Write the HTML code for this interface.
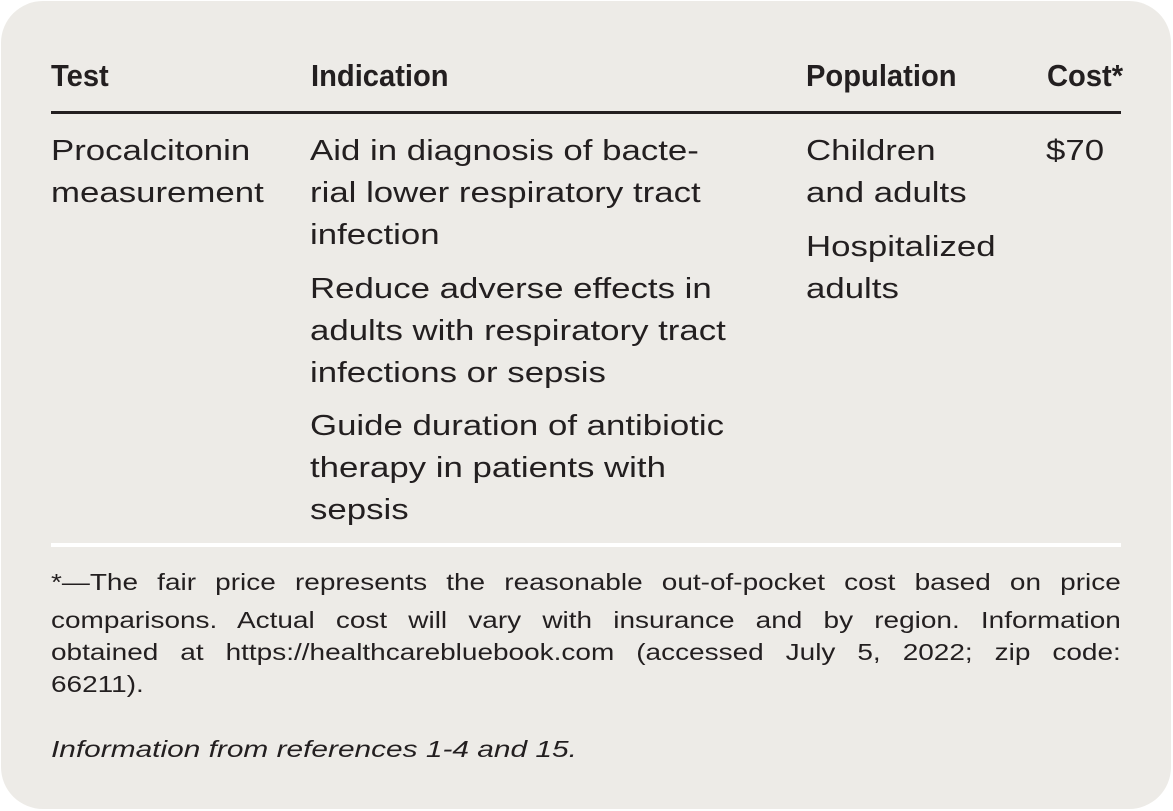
<!DOCTYPE html>
<html><head><meta charset="utf-8"><style>
html,body{margin:0;padding:0;background:#fff;}
body{width:1173px;height:811px;position:relative;overflow:hidden;font-family:"Liberation Sans",sans-serif;color:#231f20;}
.box{position:absolute;left:1px;top:1px;width:1170px;height:808px;background:#edebe7;border-radius:42px;}
.t{position:absolute;white-space:nowrap;transform-origin:0 0;}
.h{font-weight:bold;font-size:31px;top:58px;transform:scaleX(0.94);}
.b{font-size:29px;line-height:42px;transform:scaleX(1.2);}
.f{font-size:23.5px;line-height:32px;left:51px;width:899px;transform:scaleX(1.19);}
.j{text-align:justify;text-align-last:justify;}
</style></head><body>
<div class="box"></div>
<div class="t h" style="left:51px">Test</div>
<div class="t h" style="left:311px">Indication</div>
<div class="t h" style="left:806px">Population</div>
<div class="t h" style="left:1047px">Cost*</div>
<div style="position:absolute;left:51px;top:111px;width:1070px;height:3px;background:#231f20"></div>
<div class="t b" style="left:51px;top:130px">Procalcitonin<br>measurement</div>
<div class="t b" style="left:310px;top:130px">Aid in diagnosis of bacte-<br>rial lower respiratory tract<br>infection</div>
<div class="t b" style="left:310px;top:268px">Reduce adverse effects in<br>adults with respiratory tract<br>infections or sepsis</div>
<div class="t b" style="left:310px;top:405px">Guide duration of antibiotic<br>therapy in patients with<br>sepsis</div>
<div class="t b" style="left:806px;top:130px">Children<br>and adults</div>
<div class="t b" style="left:806px;top:226px">Hospitalized<br>adults</div>
<div class="t b" style="left:1046px;top:130px">$70</div>
<div style="position:absolute;left:51px;top:543px;width:1070px;height:4px;background:#fff"></div>
<div class="t f j" style="top:566px">*—The fair price represents the reasonable out-of-pocket cost based on price</div>
<div class="t f j" style="top:604px">comparisons. Actual cost will vary with insurance and by region. Information</div>
<div class="t f j" style="top:636px">obtained at https://healthcarebluebook.com (accessed July 5, 2022; zip code:</div>
<div class="t f" style="top:668px">66211).</div>
<div class="t f" style="top:733px;font-style:italic;transform:scaleX(1.27)">Information from references 1-4 and 15.</div>
</body></html>
